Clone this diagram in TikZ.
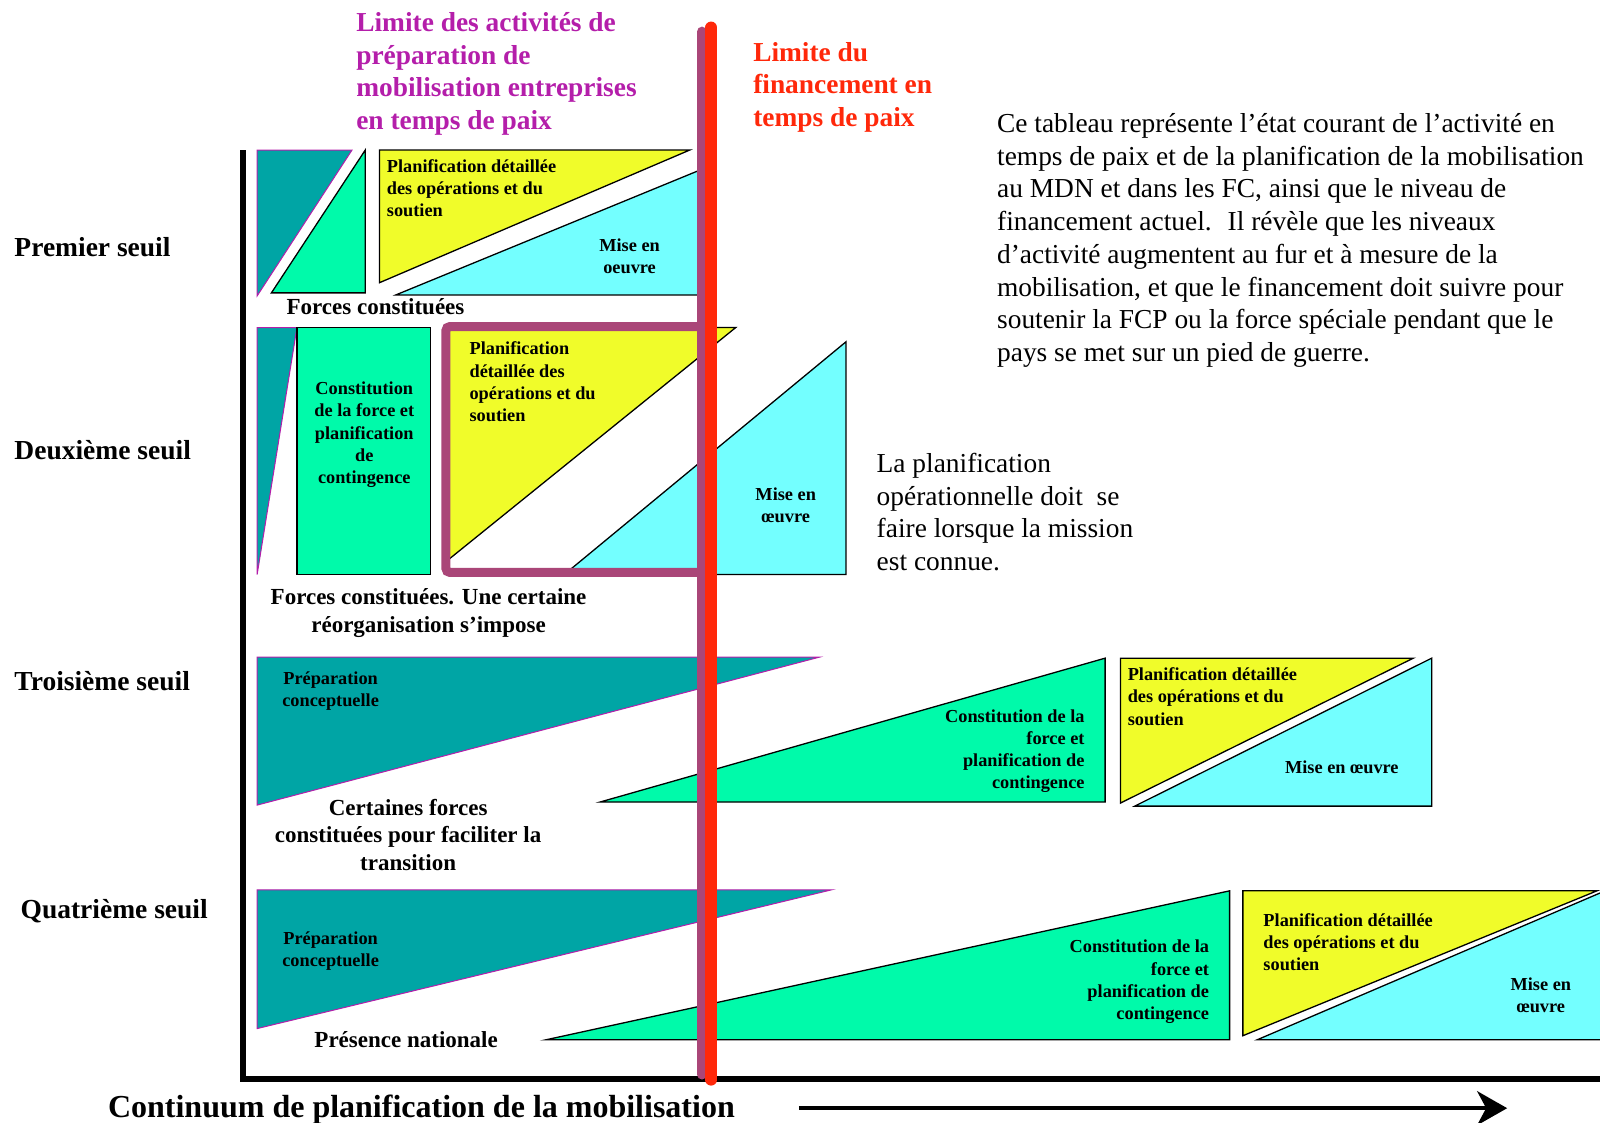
\documentclass[tikz,border=0pt]{standalone}
\usepackage{fontspec}
\setmainfont{Liberation Serif}
\usetikzlibrary{arrows.meta}

\definecolor{prepteal}{RGB}{0,165,165}
\definecolor{constgreen}{RGB}{0,250,170}
\definecolor{planyellow}{RGB}{240,252,42}
\definecolor{misecyan}{RGB}{115,255,255}
\definecolor{limmag}{RGB}{180,30,170}
\definecolor{finred}{RGB}{255,40,10}
\definecolor{paixmauve}{RGB}{170,70,120}

\begin{document}
\begin{tikzpicture}[x=1.0204pt, y=-1.0204pt,
                    prep/.style={fill=prepteal, draw=limmag, line width=1pt},
                    constit/.style={fill=constgreen, draw=black, line width=1.3pt},
                    plan/.style={fill=planyellow, draw=black, line width=1.3pt},
                    mise/.style={fill=misecyan, draw=black, line width=1.3pt},
                    intext/.style={font=\bfseries\fontsize{18.3}{22.3}\selectfont, inner sep=0pt},
                    seuil/.style={font=\bfseries\fontsize{27.5}{32}\selectfont, anchor=west, inner sep=0pt},
                    boxlabel/.style={font=\bfseries\fontsize{23}{27.5}\selectfont, align=center, inner sep=0pt},
                    heading/.style={font=\bfseries\fontsize{27.4}{32.7}\selectfont, align=left, anchor=north west, inner sep=0pt},
                    note/.style={font=\fontsize{27.4}{32.7}\selectfont, align=left, anchor=north west, inner sep=0pt}
]
\useasboundingbox (0,0) rectangle (1568,1100);

% axes
\coordinate (ytop) at (238,147);
\coordinate (origin) at (238,1057);
\coordinate (xend) at (1580,1057);
\draw[line width=6pt] (ytop) -- (origin) -- (xend);

% premier seuil
\draw[prep] (252,147) -- (345,147) -- (252,290) -- cycle;
\draw[constit] (358,147) -- (358,287) -- (266,287) -- cycle;
\draw[plan] (372,147) -- (676,147) -- (372,277) -- cycle;
\draw[mise] (388,289) -- (690,165) -- (690,289) -- cycle;
\node[intext, anchor=north west, align=left] (plan1) at (379,156) {Planification détaillée\\des opérations et du\\soutien};
\node[intext, align=center] (mise1) at (617,251) {Mise en\\oeuvre};
\node[boxlabel] (forces1) at (368,301) {Forces constituées};

% deuxieme seuil
\draw[prep] (252,321) -- (291,321) -- (252,563) -- cycle;
\draw[constit] (291,321) rectangle (422,563);
\draw[plan] (440,321) -- (721,321) -- (440,548) -- cycle;
\draw[mise] (553,563) -- (829,335) -- (829,563) -- cycle;
\node[intext, align=center] (constit2) at (357,426) {Constitution\\de la force et\\planification\\de\\contingence};
\node[intext, anchor=north west, align=left] (plan2) at (460,335) {Planification\\détaillée des\\opérations et du\\soutien};
\node[intext, align=center] (mise2) at (770,495) {Mise en\\œuvre};
\node[boxlabel] (forces2) at (420,601) {Forces constituées. Une certaine\\réorganisation s’impose};

% troisieme seuil
\draw[prep] (252,644) -- (803,644) -- (252,789) -- cycle;
\draw[constit] (588,786) -- (1083,645) -- (1083,786) -- cycle;
\draw[plan] (1098,645) -- (1385,645) -- (1098,787) -- cycle;
\draw[mise] (1112,790) -- (1403,645) -- (1403,790) -- cycle;
\node[intext, anchor=north, align=center] (prep3) at (324,658) {Préparation\\conceptuelle};
\node[intext, anchor=north east, align=right] (constit3) at (1063,695) {Constitution de la\\force et\\planification de\\contingence};
\node[intext, anchor=north west, align=left] (plan3) at (1105,654) {Planification détaillée\\des opérations et du\\soutien};
\node[intext] (mise3) at (1315,752) {Mise en œuvre};
\node[boxlabel] (forces3) at (400,818) {Certaines forces\\constituées pour faciliter la\\transition};

% quatrieme seuil
\draw[prep] (252,872) -- (815,872) -- (252,1008) -- cycle;
\draw[constit] (535,1019) -- (1205,873) -- (1205,1019) -- cycle;
\draw[plan] (1218,873) -- (1565,873) -- (1218,1015) -- cycle;
\draw[mise] (1232,1019) -- (1580,870) -- (1580,1019) -- cycle;
\node[intext, anchor=north, align=center] (prep4) at (324,913) {Préparation\\conceptuelle};
\node[intext, anchor=north east, align=right] (constit4) at (1185,921) {Constitution de la\\force et\\planification de\\contingence};
\node[intext, anchor=north west, align=left] (plan4) at (1238,895) {Planification détaillée\\des opérations et du\\soutien};
\node[intext, align=center] (mise4) at (1510,975) {Mise en\\œuvre};
\node[boxlabel] (presence) at (398,1019) {Présence nationale};

% seuils
\node[seuil] (seuil1) at (14,242) {Premier seuil};
\node[seuil] (seuil2) at (14,441) {Deuxième seuil};
\node[seuil] (seuil3) at (14,667) {Troisième seuil};
\node[seuil] (seuil4) at (20,893) {Quatrième seuil};

% limites
\coordinate (paixtop) at (688,31);
\coordinate (paixbot) at (688,1053);
\coordinate (fintop) at (697,27);
\coordinate (finbot) at (697,1058);
\draw[paixmauve, line width=10pt, line cap=round] (paixtop) -- (paixbot);
\draw[paixmauve, line width=9pt, rounded corners=4pt] (688,320) -| (437,561) -- (688,561);
\draw[finred, line width=12pt, line cap=round] (fintop) -- (finbot);
\node[heading, text=limmag] (limact) at (349,12) {Limite des activités de\\préparation de\\mobilisation entreprises\\en temps de paix};
\node[heading, text=finred] (limfin) at (738,41) {Limite du\\financement en\\temps de paix};

% notes
\node[note] (tableau) at (977,111) {Ce tableau représente l’état courant de l’activité en\\temps de paix et de la planification de la mobilisation\\au MDN et dans les FC, ainsi que le niveau de\\financement actuel.~ Il révèle que les niveaux\\d’activité augmentent au fur et à mesure de la\\mobilisation, et que le financement doit suivre pour\\soutenir la FCP ou la force spéciale pendant que le\\pays se met sur un pied de guerre.};
\node[note] (planop) at (859,444) {La planification\\opérationnelle doit~ se\\faire lorsque la mission\\est connue.};

% continuum
\node[font=\bfseries\fontsize{32}{38}\selectfont, inner sep=0pt] (continuum) at (413,1087) {Continuum de planification de la mobilisation};
\coordinate (flecheA) at (783,1086);
\coordinate (flecheB) at (1477,1086);
\draw[line width=3.5pt, -{Stealth[length=30pt, width=34pt, inset=9pt]}] (flecheA) -- (flecheB);
\end{tikzpicture}
\end{document}
